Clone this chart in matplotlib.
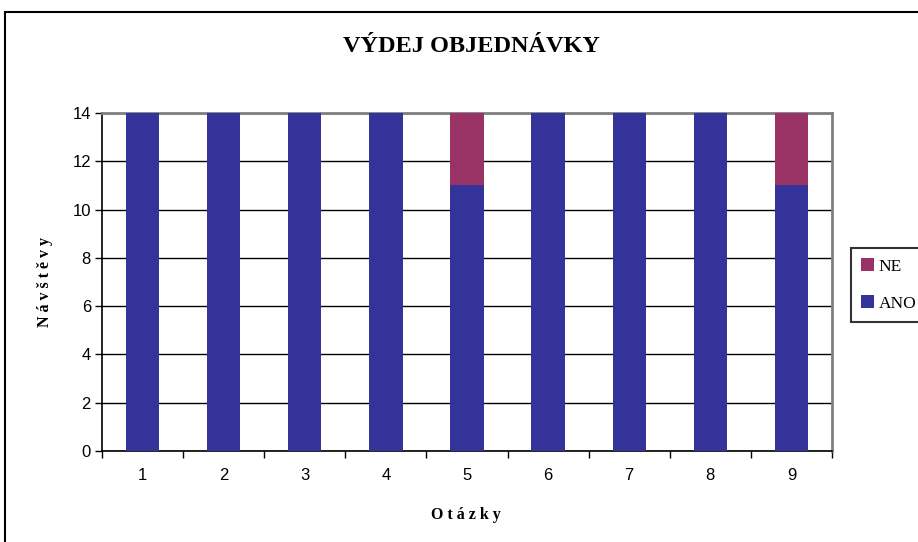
import matplotlib
matplotlib.use("Agg")
import matplotlib.pyplot as plt
from matplotlib.patches import Rectangle

categories = ["1", "2", "3", "4", "5", "6", "7", "8", "9"]
ano = [14, 14, 14, 14, 11, 14, 14, 14, 11]
ne = [0, 0, 0, 0, 3, 0, 0, 0, 3]
yticks = [0, 2, 4, 6, 8, 10, 12, 14]

W, H = 918, 542
fig = plt.figure(figsize=(W / 100, H / 100), dpi=100)
ax = fig.add_axes([102 / W, 1 - 451 / H, (832 - 102) / W, (451 - 113) / H])

x = list(range(1, len(categories) + 1))
b1 = ax.bar(x, ano, width=0.41, color="#333399", label="ANO", zorder=3)
b2 = ax.bar(x, ne, width=0.41, bottom=ano, color="#993366", label="NE", zorder=3)

ax.set_xlim(0.5, len(categories) + 0.5)
ax.set_ylim(0, 14)
ax.set_yticks(yticks)
ax.set_yticklabels([str(v) for v in yticks], fontfamily="Liberation Sans", fontsize=12)
ax.yaxis.grid(True, color="black", linewidth=1.0, zorder=0)
ax.set_axisbelow(True)

ax.set_xticks(x)
ax.set_xticklabels(categories, fontfamily="Liberation Sans", fontsize=12)
ax.tick_params(axis="x", which="major", length=0, pad=12)
ax.set_xticks([i + 0.5 for i in range(0, len(categories) + 1)], minor=True)
ax.tick_params(axis="x", which="minor", length=5, direction="out", width=1)
ax.tick_params(axis="y", length=5, direction="out", width=1, pad=3)

for s in ["left", "bottom"]:
    ax.spines[s].set_color("black")
    ax.spines[s].set_linewidth(1.2)
for s in ["top", "right"]:
    ax.spines[s].set_color("#808080")
    ax.spines[s].set_linewidth(2)

fig.text(471 / W, 1 - 47 / H, "VÝDEJ OBJEDNÁVKY", ha="center", va="center",
         fontfamily="Liberation Serif", fontweight="bold", fontsize=17.5)
fig.text(45 / W, 1 - 282 / H, "N á v š t ě v y", ha="center", va="center", rotation=90,
         fontfamily="Liberation Serif", fontweight="bold", fontsize=11.5)
fig.text(466 / W, 1 - 515 / H, "O t á z k y", ha="center", va="center",
         fontfamily="Liberation Serif", fontweight="bold", fontsize=11.5)

leg = fig.legend(handles=[b2, b1], labels=["NE", "ANO"], loc="upper left",
                 bbox_to_anchor=(851 / W, 1 - 248 / H), borderaxespad=0,
                 frameon=True, fancybox=False,
                 edgecolor="black", handlelength=0.7, handleheight=0.7, handletextpad=0.3,
                 labelspacing=1.2, borderpad=0.6,
                 prop={"family": "Liberation Serif", "size": 12.5})
leg.get_frame().set_linewidth(1.5)

fig.patches.append(Rectangle((5 / W, 1 - 545 / H), 1.0, (545 - 12) / H,
                             transform=fig.transFigure, fill=False,
                             edgecolor="black", linewidth=1.5))

fig.savefig("out.png", dpi=100)
